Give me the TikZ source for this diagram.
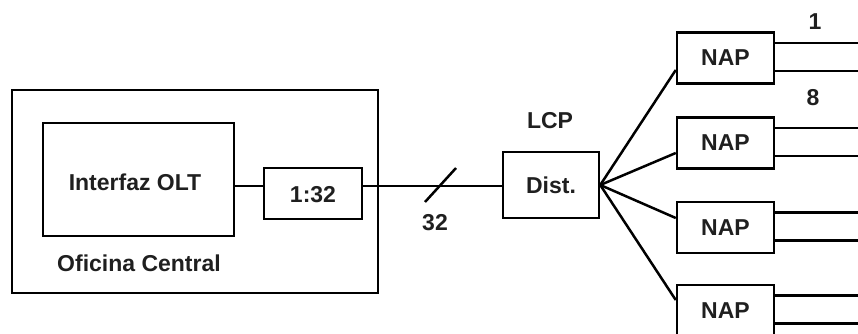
\documentclass[tikz,border=0pt]{standalone}
\usepackage{fontspec}
\setmainfont{Liberation Sans}
\begin{document}
\begin{tikzpicture}[x=1pt,y=-1pt,
  every node/.style={font=\fontsize{23}{27}\selectfont\bfseries, inner sep=0pt, text=black!88},
  box/.style={draw, line width=2.5pt},
  wire/.style={line width=2.5pt},
  nap/.style={box, minimum width=97pt, minimum height=51pt}]
\useasboundingbox (0,0) rectangle (858,334);
% central office
\node[box, minimum width=366pt, minimum height=203pt] (oc) at (195,191.5) {};
\node[box, minimum width=191pt, minimum height=113pt] (olt) at (138.5,179.5) {};
\node (oltlab) at (135,182) {Interfaz OLT};
\node (oclab) at (139,263) {Oficina Central};
\node[box, minimum width=98pt, minimum height=51pt] (split) at (313,193.5) {};
\node (splitlab) at (313,195) {1:32};
% LCP
\node[box, minimum width=96pt, minimum height=66pt] (dist) at (551,185) {Dist.};
\node (lcp) at (550,121) {LCP};
% NAPs
\node[nap] (nap1) at (725.5,58) {NAP};
\node[nap] (nap2) at (725.5,143) {NAP};
\node[nap] (nap3) at (725.5,227.5) {NAP};
\node[nap] (nap4) at (725.5,310.5) {NAP};
% main line
\coordinate (lineY) at (0,186);
\draw[wire] (olt.east |- lineY) -- (split.west |- lineY);
\draw[wire] (split.east |- lineY) -- (dist.west |- lineY);
\coordinate (s1) at (425,202);
\coordinate (s2) at (456,168);
\draw[wire] (s1) -- (s2);
\node (n32) at (435,223) {32};
% fan out
\draw[wire] (dist.east) -- ([yshift=-12pt]nap1.west);
\draw[wire] (dist.east) -- ([yshift=-10pt]nap2.west);
\draw[wire] (dist.east) -- ([yshift=9.5pt]nap3.west);
\draw[wire] (dist.east) -- ([yshift=10.5pt]nap4.west);
% drop lines
\coordinate (edge) at (858,0);
\foreach \n in {nap1,nap2,nap3,nap4}{
  \draw[wire] ([yshift=15pt]\n.east) -- ([yshift=15pt]\n.east -| edge);
  \draw[wire] ([yshift=-13pt]\n.east) -- ([yshift=-13pt]\n.east -| edge);
}
\node (l1) at (815,22) {1};
\node (l8) at (813,98) {8};
\end{tikzpicture}
\end{document}
